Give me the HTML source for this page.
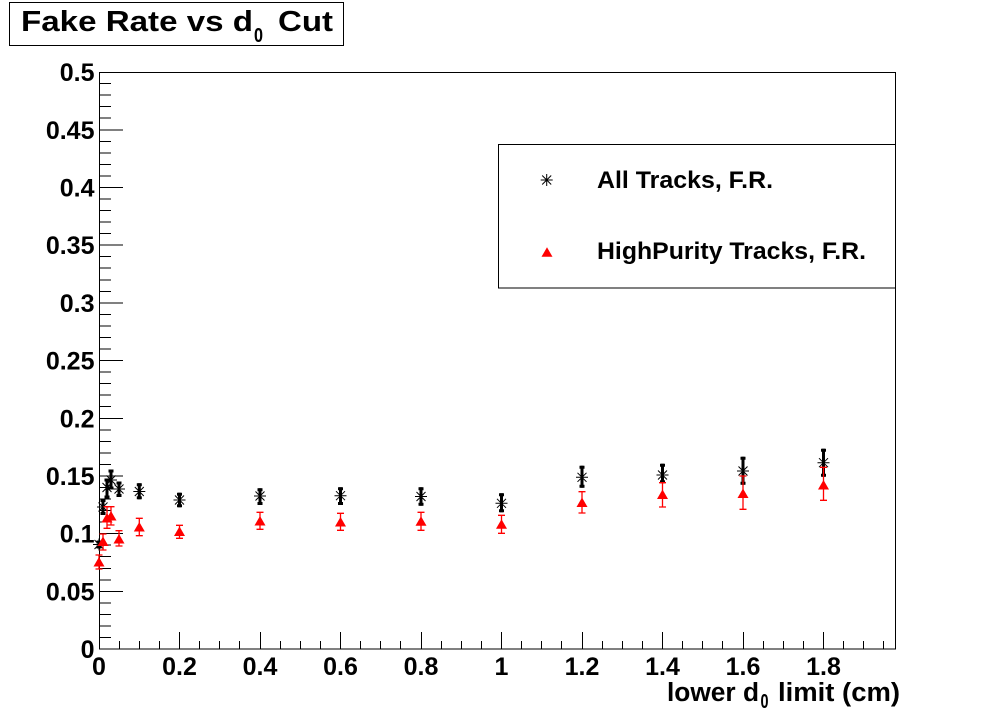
<!DOCTYPE html>
<html>
<head>
<meta charset="utf-8">
<style>
html,body{margin:0;padding:0;background:#fff;}
svg{display:block;}
text{font-family:"Liberation Sans",Arial,Helvetica,sans-serif;font-weight:bold;fill:#000;}
</style>
</head>
<body>
<svg width="996" height="722" viewBox="0 0 996 722" xmlns="http://www.w3.org/2000/svg">
<defs>
  <g id="star"><path d="M-6,0H6M0,-6V6M-4.5,-4.5L4.5,4.5M-4.5,4.5L4.5,-4.5" stroke="#000" stroke-width="1" fill="none"/></g>
  <g id="tri"><polygon points="-5.5,4.5 5.5,4.5 0,-5" fill="#ff0000"/></g>
</defs>
<rect x="0" y="0" width="996" height="722" fill="#fff"/>

<!-- Title -->
<rect x="9.5" y="2.5" width="334" height="43" fill="none" stroke="#000" stroke-width="1"/>
<text x="21" y="31" font-size="28.5" textLength="232" lengthAdjust="spacingAndGlyphs">Fake Rate vs d</text>
<text x="254" y="42" font-size="20" textLength="9" lengthAdjust="spacingAndGlyphs">0</text>
<text x="278" y="31" font-size="28.5" textLength="55" lengthAdjust="spacingAndGlyphs">Cut</text>

<!-- Frame -->
<rect x="99.5" y="72.5" width="796" height="576.5" fill="none" stroke="#000" stroke-width="1"/>

<!-- Y ticks -->
<g stroke="#000" stroke-width="1" shape-rendering="crispEdges">
<path d="M99,649H123M99,637.5H111M99,626H111M99,614.5H111M99,603H111M99,591.5H123M99,580H111M99,568.5H111M99,556.5H111M99,545H111M99,533.5H123M99,522H111M99,510.5H111M99,499H111M99,487.5H111M99,476H123M99,464.5H111M99,453H111M99,441.5H111M99,430H111M99,418.5H123M99,406.5H111M99,395H111M99,383.5H111M99,372H111M99,360.5H123M99,349H111M99,337.5H111M99,326H111M99,314.5H111M99,303H123M99,291.5H111M99,280H111M99,268H111M99,256.5H111M99,245H123M99,233.5H111M99,222H111M99,210.5H111M99,199H111M99,187.5H123M99,176H111M99,164.5H111M99,153H111M99,141.5H111M99,130H123M99,118H111M99,106.5H111M99,95H111M99,83.5H111M99,72.5H123"/>
</g>

<!-- X ticks -->
<g stroke="#000" stroke-width="1" shape-rendering="crispEdges">
<path d="M99.5,649V632M119.5,649V641M139.5,649V641M159.5,649V641M179.5,649V632M199.5,649V641M219.5,649V641M239.5,649V641M260.5,649V632M280.5,649V641M300.5,649V641M320.5,649V641M340.5,649V632M360.5,649V641M380.5,649V641M400.5,649V641M421.5,649V632M441.5,649V641M461.5,649V641M481.5,649V641M501.5,649V632M521.5,649V641M541.5,649V641M561.5,649V641M582.5,649V632M602.5,649V641M622.5,649V641M642.5,649V641M662.5,649V632M682.5,649V641M702.5,649V641M722.5,649V641M743.5,649V632M763.5,649V641M783.5,649V641M803.5,649V641M823.5,649V632M843.5,649V641M863.5,649V641M883.5,649V641"/>
</g>

<!-- Y labels -->
<g font-size="25" text-anchor="end">
<text x="94.5" y="658">0</text>
<text x="94.5" y="600.5">0.05</text>
<text x="94.5" y="542.5">0.1</text>
<text x="94.5" y="485">0.15</text>
<text x="94.5" y="427.5">0.2</text>
<text x="94.5" y="369.5">0.25</text>
<text x="94.5" y="312">0.3</text>
<text x="94.5" y="254">0.35</text>
<text x="94.5" y="196.5">0.4</text>
<text x="94.5" y="139">0.45</text>
<text x="94.5" y="81">0.5</text>
</g>

<!-- X labels -->
<g font-size="25" text-anchor="middle">
<text x="99" y="675">0</text>
<text x="179.5" y="675">0.2</text>
<text x="260" y="675">0.4</text>
<text x="340.5" y="675">0.6</text>
<text x="421" y="675">0.8</text>
<text x="501.5" y="675">1</text>
<text x="582" y="675">1.2</text>
<text x="662.5" y="675">1.4</text>
<text x="743" y="675">1.6</text>
<text x="823.5" y="675">1.8</text>
</g>

<!-- X axis title -->
<text x="667" y="701" font-size="25.5" textLength="92" lengthAdjust="spacingAndGlyphs">lower d</text>
<text x="760.5" y="708" font-size="20" textLength="8" lengthAdjust="spacingAndGlyphs">0</text>
<text x="778" y="701" font-size="25.5" textLength="122" lengthAdjust="spacingAndGlyphs">limit (cm)</text>

<!-- Black series error bars -->
<g stroke="#000" stroke-width="3" fill="none">
<path d="M99,540.5V548.5M103,499V515M107,478.5V498.5M111,469.5V489.5M119,481.5V497M139.3,483.3V499.3M179.5,492.7V507.3M260,488.3V505M340.5,487.3V505M421,487.3V505.7M501.5,493.3V512.3M582,465.7V487.7M662.5,463.7V483.3M743,456.7V484.7M823.5,448.7V476.7"/>
<path d="M96.5,542H101.5M96.5,547H101.5M100.5,500.5H105.5M100.5,513.5H105.5M104.5,480H109.5M104.5,497H109.5M108.5,471H113.5M108.5,488H113.5M116.5,483H121.5M116.5,495.5H121.5M136.8,484.8H141.8M136.8,497.8H141.8M177,494.2H182M177,505.8H182M257.5,489.8H262.5M257.5,503.5H262.5M338,488.8H343M338,503.5H343M418.5,488.8H423.5M418.5,504.2H423.5M499,494.8H504M499,510.8H504M579.5,467.2H584.5M579.5,486.2H584.5M660,465.2H665M660,481.8H665M740.5,458.2H745.5M740.5,483.2H745.5M821,450.2H826M821,475.2H826"/>
</g>
<!-- Black stars -->
<g>
<use href="#star" x="99" y="544.5"/>
<use href="#star" x="103" y="507"/>
<use href="#star" x="107" y="487.5"/>
<use href="#star" x="111" y="480"/>
<use href="#star" x="119" y="489"/>
<use href="#star" x="139.3" y="491.5"/>
<use href="#star" x="179.5" y="500"/>
<use href="#star" x="260" y="496"/>
<use href="#star" x="340.5" y="495.7"/>
<use href="#star" x="421" y="496.5"/>
<use href="#star" x="501.5" y="503.3"/>
<use href="#star" x="582" y="477.3"/>
<use href="#star" x="662.5" y="475"/>
<use href="#star" x="743" y="471"/>
<use href="#star" x="823.5" y="462.7"/>
</g>

<!-- Red series error bars -->
<g stroke="#ff0000" stroke-width="1.3" fill="none">
<path d="M99,555V569M95.5,555H102.5M95.5,569H102.5
M103,534V550M99.5,534H106.5M99.5,550H106.5
M107,506.7V528.3M103.5,506.7H110.5M103.5,528.3H110.5
M111,506.7V525M107.5,506.7H114.5M107.5,525H114.5
M119,530.7V546M115.5,530.7H122.5M115.5,546H122.5
M139.3,518.3V535.7M135.8,518.3H142.8M135.8,535.7H142.8
M179.5,525.3V538.3M176,525.3H183M176,538.3H183
M260,512.3V529.3M256.5,512.3H263.5M256.5,529.3H263.5
M340.5,513.3V530.3M337,513.3H344M337,530.3H344
M421,512.3V530.3M417.5,512.3H424.5M417.5,530.3H424.5
M501.5,515.3V533.3M498,515.3H505M498,533.3H505
M582,491.7V513M578.5,491.7H585.5M578.5,513H585.5
M662.5,482.7V507M659,482.7H666M659,507H666
M743,476V509.3M739.5,476H746.5M739.5,509.3H746.5
M823.5,467.3V500.3M820,467.3H827M820,500.3H827"/>
</g>
<!-- Red triangles -->
<g>
<use href="#tri" x="99" y="562"/>
<use href="#tri" x="103" y="541.5"/>
<use href="#tri" x="107" y="518"/>
<use href="#tri" x="111" y="516"/>
<use href="#tri" x="119" y="539"/>
<use href="#tri" x="139.3" y="527"/>
<use href="#tri" x="179.5" y="531.5"/>
<use href="#tri" x="260" y="521"/>
<use href="#tri" x="340.5" y="522"/>
<use href="#tri" x="421" y="521.3"/>
<use href="#tri" x="501.5" y="524.3"/>
<use href="#tri" x="582" y="502.5"/>
<use href="#tri" x="662.5" y="494.5"/>
<use href="#tri" x="743" y="493.5"/>
<use href="#tri" x="823.5" y="485"/>
</g>

<!-- Legend -->
<rect x="498.5" y="144.5" width="397" height="143.5" fill="#fff" stroke="#000" stroke-width="1"/>
<use href="#star" x="546.7" y="180"/>
<use href="#tri" x="547" y="252.3"/>
<text x="597" y="188" font-size="24.5" textLength="176" lengthAdjust="spacingAndGlyphs">All Tracks, F.R.</text>
<text x="597" y="259" font-size="24.5" textLength="269" lengthAdjust="spacingAndGlyphs">HighPurity Tracks, F.R.</text>
</svg>
</body>
</html>
